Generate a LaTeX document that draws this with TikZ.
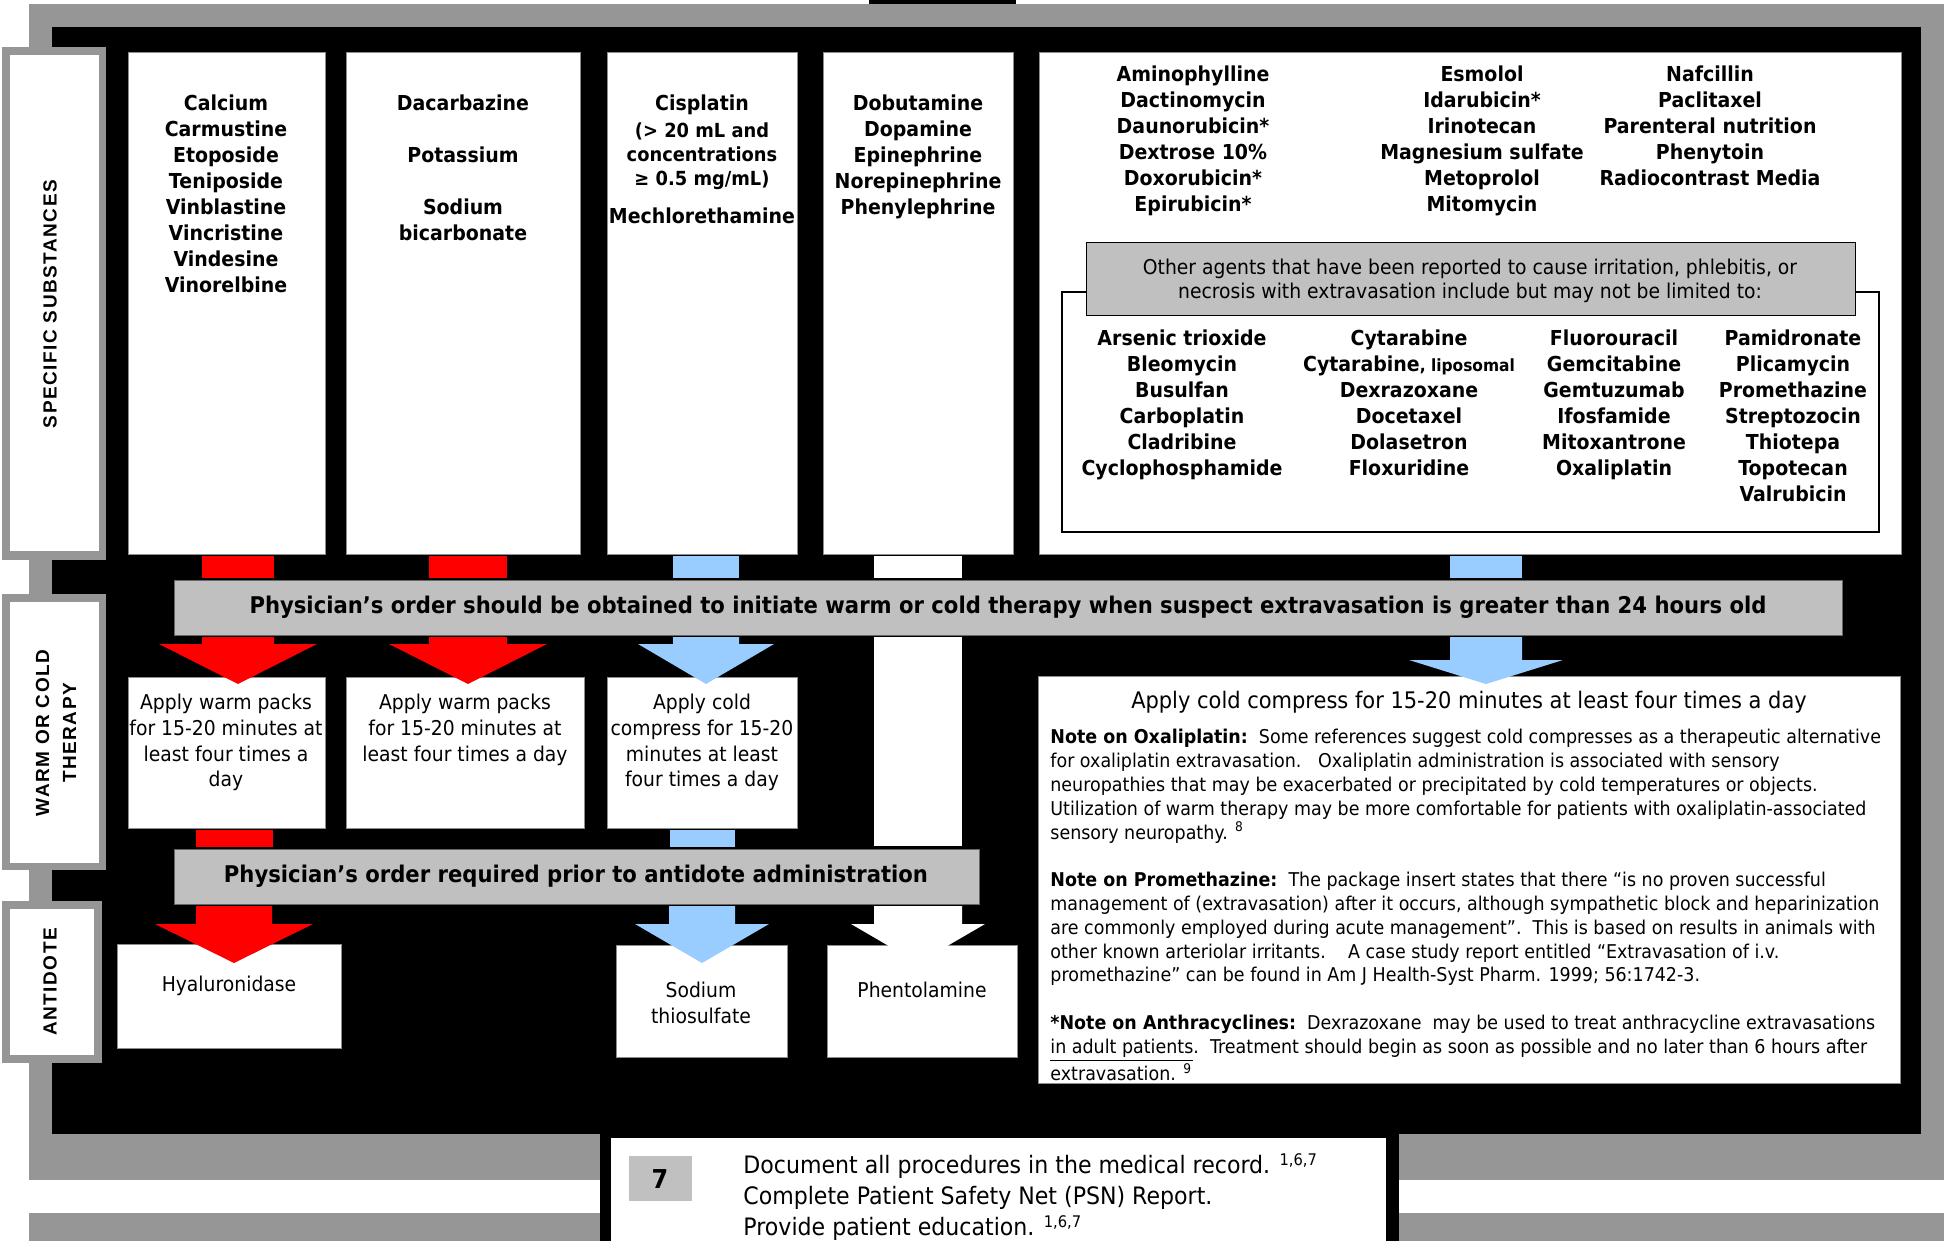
\documentclass[tikz,border=0pt]{standalone}
\usepackage{fontspec}
\setmainfont{DejaVu Sans}[FakeStretch=0.92]
\newfontfamily\tagfont{Liberation Sans}[LetterSpace=8]
\definecolor{framegray}{RGB}{150,150,150}
\definecolor{bandgray}{RGB}{192,192,192}
\definecolor{warmred}{RGB}{255,0,0}
\definecolor{coldblue}{RGB}{153,204,255}
\tikzset{
  box/.style={draw=black!45,fill=white,line width=0.4pt},
  band/.style={draw=black!60,fill=bandgray,line width=0.5pt},
  drug/.style={font=\bfseries\fontsize{10.3}{13}\selectfont,align=center,anchor=north,inner sep=0pt},
  smalldrug/.style={font=\bfseries\fontsize{9.7}{12.2}\selectfont,align=center,anchor=north,inner sep=0pt},
  care/.style={font=\fontsize{10.2}{12.8}\selectfont,align=center,anchor=north,inner sep=0pt},
  note/.style={font=\fontsize{9.5}{11.9}\selectfont,align=left,anchor=north west,inner sep=0pt},
  order/.style={font=\bfseries\fontsize{11.5}{13}\selectfont,inner sep=0pt},
  tag/.style={font=\tagfont\bfseries\fontsize{9.5}{13.5}\selectfont,align=center,rotate=90,inner sep=0pt}
}
% block arrow: colour, centre x, half shaft, half head, top, neck, tip
\newcommand{\blockarrow}[7]{\fill[#1] (#2-#3,#5) -- (#2+#3,#5) -- (#2+#3,#6) -- (#2+#4,#6) -- (#2,#7) -- (#2-#4,#6) -- (#2-#3,#6) -- cycle;}
\begin{document}
\begin{tikzpicture}[x=0.5pt,y=-0.5pt]
	\useasboundingbox (0,0) rectangle (1944,1241);
	% frame
	\fill[black] (869,0) rectangle (1016,4);
	\fill[framegray] (29,4) rectangle (1944,1180);
	\fill[framegray] (29,1213) rectangle (1944,1241);
	\fill[black] (52,27) rectangle (1921,1134);
	\fill[black] (600,1134) rectangle (1399,1241);
	\fill[white] (611,1138) rectangle (1386,1241);
	% side tags
	\fill[framegray] (2,47) rectangle (106,560);
	\fill[white] (10,55) rectangle (99,551);
	\node[tag] (tagsub) at (50,304) {SPECIFIC SUBSTANCES};
	\fill[framegray] (2,594) rectangle (106,870);
	\fill[white] (10,602) rectangle (99,863);
	\node[tag] (tagwarm) at (56,733) {WARM OR COLD\\THERAPY};
	\fill[framegray] (2,901) rectangle (102,1063);
	\fill[white] (10,909) rectangle (94,1055);
	\node[tag] (taganti) at (50,982) {ANTIDOTE};
	% substances
	\draw[box] (128,52) rectangle (325,554);
	\draw[box] (346,52) rectangle (580,554);
	\draw[box] (607,52) rectangle (797,554);
	\draw[box] (823,52) rectangle (1013,554);
	\draw[box] (1039,52) rectangle (1901,554);
	\node[drug] (sub1) at (226,94) {Calcium\\Carmustine\\Etoposide\\Teniposide\\Vinblastine\\Vincristine\\Vindesine\\Vinorelbine};
	\node[drug] (sub2) at (463,94) {Dacarbazine\\[13pt]Potassium\\[13pt]Sodium\\bicarbonate};
	\node[drug] (sub3) at (702,94) {Cisplatin};
	\node[smalldrug] (sub3b) at (702,122) {(> 20 mL and\\concentrations\\≥ 0.5 mg/mL)};
	\node[drug] (sub3c) at (702,207) {Mechlorethamine};
	\node[drug] (sub4) at (918,94) {Dobutamine\\Dopamine\\Epinephrine\\Norepinephrine\\Phenylephrine};
	\node[drug] (lista) at (1193,65) {Aminophylline\\Dactinomycin\\Daunorubicin*\\Dextrose 10\%\\Doxorubicin*\\Epirubicin*};
	\node[drug] (listb) at (1482,65) {Esmolol\\Idarubicin*\\Irinotecan\\Magnesium sulfate\\Metoprolol\\Mitomycin};
	\node[drug] (listc) at (1710,65) {Nafcillin\\Paclitaxel\\Parenteral nutrition\\Phenytoin\\Radiocontrast Media};
	\draw[black,line width=0.6pt,fill=white] (1062,292) rectangle (1879,532);
	\draw[band,draw=black] (1086,243) rectangle (1855,316);
	\node[font=\fontsize{10.2}{12}\selectfont,align=center,inner sep=0pt] (other) at (1470,281) {Other agents that have been reported to cause irritation, phlebitis, or\\necrosis with extravasation include but may not be limited to:};
	\node[drug] (listd) at (1182,329) {Arsenic trioxide\\Bleomycin\\Busulfan\\Carboplatin\\Cladribine\\Cyclophosphamide};
	\node[drug] (liste) at (1409,329) {Cytarabine\\Cytarabine{\fontsize{8.4}{13}\selectfont, liposomal}\\Dexrazoxane\\Docetaxel\\Dolasetron\\Floxuridine};
	\node[drug] (listf) at (1614,329) {Fluorouracil\\Gemcitabine\\Gemtuzumab\\Ifosfamide\\Mitoxantrone\\Oxaliplatin};
	\node[drug] (listg) at (1793,329) {Pamidronate\\Plicamycin\\Promethazine\\Streptozocin\\Thiotepa\\Topotecan\\Valrubicin};
	% bars under the substances
	\fill[warmred] (202,556) rectangle (274,578);
	\fill[warmred] (429,556) rectangle (507,578);
	\fill[coldblue] (673,556) rectangle (739,578);
	\fill[white] (874,556) rectangle (962,578);
	\fill[coldblue] (1450,556) rectangle (1522,578);
	\draw[band] (174,580) rectangle (1842,635);
	\node[order] (order1) at (1008,607) {Physician’s order should be obtained to initiate warm or cold therapy when suspect extravasation is greater than 24 hours old};
	% therapy
	\draw[box] (128,677) rectangle (325,828);
	\draw[box] (346,677) rectangle (584,828);
	\draw[box] (607,677) rectangle (797,828);
	\draw[box] (1038,676) rectangle (1900,1083);
	\node[care] (warm1) at (226,694) {Apply warm packs\\for 15-20 minutes at\\least four times a\\day};
	\node[care] (warm2) at (465,694) {Apply warm packs\\for 15-20 minutes at\\least four times a day};
	\node[care] (cold1) at (702,694) {Apply cold\\compress for 15-20\\minutes at least\\four times a day};
	\node[care,font=\fontsize{11.4}{13}\selectfont] (cold2) at (1469,691) {Apply cold compress for 15-20 minutes at least four times a day};
	\node[note] (notes) at (1050,729) {\textbf{Note on Oxaliplatin:}\ \ Some references suggest cold compresses as a therapeutic alternative\\
		for oxaliplatin extravasation.\ \ \ Oxaliplatin administration is associated with sensory\\
		neuropathies that may be exacerbated or precipitated by cold temperatures or objects.\\
		Utilization of warm therapy may be more comfortable for patients with oxaliplatin-associated\\
		sensory neuropathy. \textsuperscript{8}\\[11.9pt]
		\textbf{Note on Promethazine:}\ \ The package insert states that there “is no proven successful\\
		management of (extravasation) after it occurs, although sympathetic block and heparinization\\
		are commonly employed during acute management”.\ \ This is based on results in animals with\\
		other known arteriolar irritants.\ \ \ \ A case study report entitled “Extravasation of i.v.\\
		promethazine” can be found in Am J Health-Syst Pharm. 1999; 56:1742-3.\\[11.9pt]
		\textbf{*Note on Anthracyclines:}\ \ Dexrazoxane\ \ may be used to treat anthracycline extravasations\\
		\underline{in adult patients}.\ \ Treatment should begin as soon as possible and no later than 6 hours after\\
		extravasation. \textsuperscript{9}};
	\fill[warmred] (196,830) rectangle (273,847);
	\fill[coldblue] (670,830) rectangle (735,847);
	\fill[white] (874,637) rectangle (962,846);
	\blockarrow{warmred}{238}{36}{79}{637}{644}{684}
	\blockarrow{warmred}{468}{39}{79}{637}{644}{684}
	\blockarrow{coldblue}{706}{33}{68}{637}{644}{684}
	\blockarrow{coldblue}{1486}{36}{77}{637}{660}{684}
	\draw[band] (174,849) rectangle (979,904);
	\node[order] (order2) at (576,876) {Physician’s order required prior to antidote administration};
	% antidotes
	\draw[box] (117,944) rectangle (341,1048);
	\draw[box] (616,945) rectangle (787,1057);
	\draw[box] (827,945) rectangle (1017,1057);
	\node[care] (anti1) at (229,976) {Hyaluronidase};
	\node[care] (anti2) at (701,982) {Sodium\\thiosulfate};
	\node[care] (anti3) at (922,982) {Phentolamine};
	\blockarrow{warmred}{234}{38}{79}{906}{924}{963}
	\blockarrow{coldblue}{702}{33}{67}{906}{924}{963}
	\blockarrow{white}{918}{44}{67}{906}{924}{963}
	% step 7
	\fill[bandgray] (629,1156) rectangle (692,1201);
	\node[font=\bfseries\fontsize{13}{15}\selectfont] (seven) at (660,1179) {7};
	\node[font=\fontsize{12}{15.5}\selectfont,align=left,anchor=north west,inner sep=0pt] (record) at (743,1153) {Document all procedures in the medical record. \textsuperscript{1,6,7}\\Complete Patient Safety Net (PSN) Report.\\Provide patient education. \textsuperscript{1,6,7}};
\end{tikzpicture}
\end{document}
